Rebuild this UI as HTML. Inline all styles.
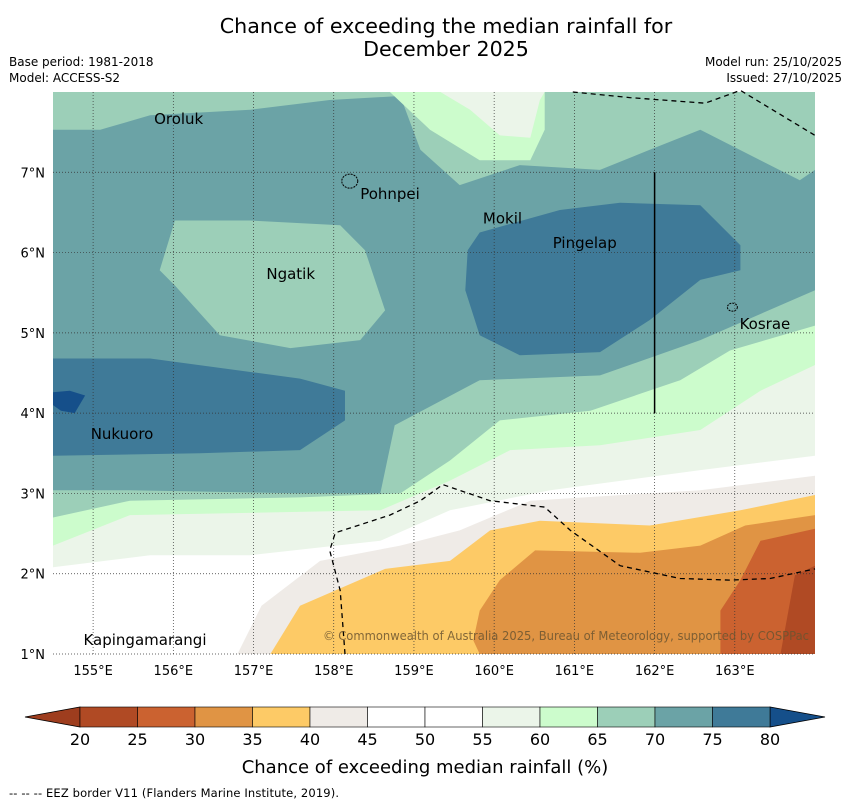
<!DOCTYPE html>
<html><head><meta charset="utf-8"><style>
body{margin:0;background:#fff;font-family:"DejaVu Sans","Liberation Sans",sans-serif;}
svg text{font-family:"DejaVu Sans","Liberation Sans",sans-serif;}
</style></head><body>
<svg id="chart" width="850" height="804" viewBox="0 0 850 804" xmlns="http://www.w3.org/2000/svg">
<text x="446" y="33" font-size="20.6" text-anchor="middle">Chance of exceeding the median rainfall for</text>
<text x="446" y="56" font-size="20.6" text-anchor="middle">December 2025</text>
<text x="9" y="66" font-size="12">Base period: 1981-2018</text>
<text x="9" y="82" font-size="12">Model: ACCESS-S2</text>
<text x="842" y="66" font-size="12" text-anchor="end">Model run: 25/10/2025</text>
<text x="842" y="82" font-size="12" text-anchor="end">Issued: 27/10/2025</text>
<defs><clipPath id="mapclip"><rect x="53" y="92" width="762" height="562"/></clipPath></defs>
<g id="map" clip-path="url(#mapclip)"></g>
<g id="overlay"></g>
<g id="cbar"></g>
<text x="425" y="773" font-size="18" text-anchor="middle">Chance of exceeding median rainfall (%)</text>
<text x="9" y="797" font-size="11.5" textLength="330">--  --  -- EEZ border V11 (Flanders Marine Institute, 2019).</text>
</svg>
<script>
const lonTicks=[155,156,157,158,159,160,161,162,163];
const latTicks=[1,2,3,4,5,6,7];
const cbarLevels=[20,25,30,35,40,45,50,55,60,65,70,75,80];
const cbarColors=["#b04a24","#cb6230","#e09444","#fdca66","#efebe7","#ffffff","#ffffff","#ebf5e9","#ccfccc","#9ccfb8","#6ba3a6","#3f7a98"];
const overColor="#154f8a", underColor="#9e3d1e";
const lon0=154.5, lon1=164, lat0=1, lat1=8;
function X(lon){return 53+(lon-lon0)*(762/(lon1-lon0));}
function Y(lat){return 654-(lat-lat0)*(562/(lat1-lat0));}
const regions=[
 ["#9ccfb8",[[154.5,3.04],[155.46,3.04],[157.58,3.0],[158.58,3.0],[158.76,3.85],[159.82,4.41],[161.32,4.47],[162.57,4.91],[164,5.53],[164,1],[154.5,1]]],
 ["#9ccfb8",[[154.5,7.53],[155.09,7.53],[155.71,7.71],[156.96,7.78],[157.95,7.9],[158.83,7.95],[159.08,7.28],[159.57,6.84],[160.32,7.09],[161.32,7.03],[161.94,7.28],[162.57,7.53],[163.81,6.9],[164,7.03],[164,8],[154.5,8]]],
 ["#9ccfb8",[[156.02,6.4],[156.96,6.4],[158.08,6.34],[158.39,6.03],[158.64,5.28],[158.33,4.91],[157.46,4.81],[156.58,4.97],[156.02,5.59],[155.83,5.78]]],
 ["#ccfccc",[[154.5,2.7],[155.46,2.91],[157.58,2.95],[158.83,3.0],[159.45,3.41],[160.07,3.91],[161.2,4.03],[162.32,4.41],[162.94,4.78],[164,5.09],[164,1],[154.5,1]]],
 ["#ccfccc",[[158.7,8],[159.2,7.53],[159.82,7.15],[160.45,7.15],[160.63,7.53],[160.63,8]]],
 ["#ebf5e9",[[154.5,2.35],[155.46,2.73],[158.58,2.79],[159.45,3.16],[160.2,3.54],[161.32,3.6],[162.57,3.79],[163.32,4.28],[164,4.6],[164,1],[154.5,1]]],
 ["#ebf5e9",[[159.33,8],[159.7,7.78],[160.07,7.46],[160.45,7.43],[160.57,7.9],[160.63,8]]],
 ["#ffffff",[[154.5,2.08],[155.71,2.23],[156.96,2.23],[158.58,2.41],[159.45,2.79],[160.7,3.04],[162.57,3.29],[164,3.47],[164,1],[154.5,1]]],
 ["#efebe7",[[156.8,1],[157.1,1.6],[157.83,2.16],[158.83,2.35],[159.57,2.54],[160.45,2.91],[162.57,3.04],[164,3.22],[164,1]]],
 ["#fdca66",[[157.21,1],[157.58,1.6],[158.64,2.06],[159.45,2.16],[159.95,2.54],[160.57,2.66],[161.94,2.6],[163.07,2.79],[164,2.98],[164,1]]],
 ["#e09444",[[159.74,1.17],[159.82,1.54],[160.07,1.92],[160.51,2.29],[161.82,2.26],[162.57,2.35],[163.13,2.6],[164,2.73],[164,1],[159.82,1]]],
 ["#cb6230",[[162.82,1],[162.82,1.54],[163.07,1.92],[163.32,2.41],[164,2.56],[164,1]]],
 ["#b04a24",[[163.57,1],[163.75,1.98],[164,2.1],[164,1]]],
 ["#3f7a98",[[154.5,4.68],[155.71,4.68],[157.58,4.43],[158.14,4.28],[158.14,3.91],[157.58,3.54],[156.33,3.5],[154.5,3.47]]],
 ["#3f7a98",[[159.82,6.25],[160.82,6.53],[161.57,6.62],[162.57,6.59],[163.07,6.09],[163.07,5.78],[162.57,5.66],[161.94,5.16],[161.32,4.76],[160.32,4.72],[159.82,4.97],[159.64,5.53],[159.67,6.03]]],
 ["#154f8a",[[154.5,4.26],[154.71,4.28],[154.9,4.22],[154.77,4.0],[154.6,4.03],[154.5,4.1]]]
];
const eezA=[[158.14,1],[158.08,1.79],[157.95,2.29],[158.02,2.51],[158.7,2.73],[159.08,2.91],[159.36,3.11],[159.95,2.91],[160.63,2.83],[160.95,2.54],[161.57,2.1],[162.32,1.94],[162.94,1.92],[163.44,1.94],[164,2.06]];
const eezB=[[160.98,8],[161.69,7.93],[162.63,7.86],[163.07,8.02],[164,7.46]];
const vline=[[162,7],[162,4]];
const islands=[["Oroluk",155.76,7.6],["Pohnpei",158.33,6.67],["Mokil",159.86,6.36],["Pingelap",160.73,6.06],["Ngatik",157.16,5.67],["Kosrae",163.06,5.05],["Nukuoro",154.97,3.68],["Kapingamarangi",154.88,1.11]];
const NS="http://www.w3.org/2000/svg";
function mk(t,a,p){const e=document.createElementNS(NS,t);for(const k in a)e.setAttribute(k,a[k]);p.appendChild(e);return e;}
const map=document.getElementById('map');
let bg=mk('rect',{x:53,y:92,width:762,height:562,fill:"#6ba3a6"},map);


const pts=a=>a.map(p=>X(p[0]).toFixed(1)+","+Y(p[1]).toFixed(1)).join(" ");
regions.forEach((r,i)=>{const e=mk('polygon',{points:pts(r[1]),fill:r[0]},map);

});
const ov=document.getElementById('overlay');
lonTicks.forEach(l=>{const e=mk('line',{x1:X(l),x2:X(l),y1:92,y2:654,stroke:"#333","stroke-width":0.7,"stroke-dasharray":"1,2"},ov);


const t=mk('text',{x:X(l),y:675,"font-size":13,"text-anchor":"middle"},ov);t.textContent=l+"°E";

});
latTicks.forEach(l=>{const e=mk('line',{x1:53,x2:815,y1:Y(l),y2:Y(l),stroke:"#333","stroke-width":0.7,"stroke-dasharray":"1,2"},ov);


const t=mk('text',{x:45,y:Y(l)+5,"font-size":13,"text-anchor":"end"},ov);t.textContent=l+"°N";

});
[eezA,eezB].forEach(a=>{const e=mk('polyline',{points:pts(a),fill:"none",stroke:"#000","stroke-width":1.3,"stroke-dasharray":"5,4"},ov);

});
let vl=mk('polyline',{points:pts(vline),stroke:"#000","stroke-width":1.5,fill:"none"},ov);


islands.forEach(s=>{const t=mk('text',{x:X(s[1]),y:Y(s[2]),"font-size":15},ov);t.textContent=s[0];

});
let ps=mk('ellipse',{cx:X(158.2),cy:Y(6.89),rx:8,ry:7,fill:"none",stroke:"#000","stroke-dasharray":"2,1"},ov);


let ks=mk('ellipse',{cx:X(162.97),cy:Y(5.32),rx:5,ry:4,fill:"none",stroke:"#000","stroke-dasharray":"2,1"},ov);


let cp=mk('text',{x:323,y:640,"font-size":12,textLength:486,lengthAdjust:"spacingAndGlyphs",fill:"#6b5530","fill-opacity":0.85},ov);cp.textContent="© Commonwealth of Australia 2025, Bureau of Meteorology, supported by COSPPac";


const cb=document.getElementById('cbar');
const cx0=80,cx1=770,cy0=707,cy1=727;
const CX=v=>cx0+(v-cbarLevels[0])*(cx1-cx0)/(cbarLevels[cbarLevels.length-1]-cbarLevels[0]);
let u=mk('polygon',{points:`${cx0},${cy0} ${cx0},${cy1} 25,${(cy0+cy1)/2}`,fill:underColor,stroke:"#000","stroke-width":0.8},cb);


let o=mk('polygon',{points:`${cx1},${cy0} ${cx1},${cy1} 825,${(cy0+cy1)/2}`,fill:overColor,stroke:"#000","stroke-width":0.8},cb);


cbarColors.forEach((c,i)=>{const e=mk('rect',{x:CX(cbarLevels[i]),y:cy0,width:CX(cbarLevels[i+1])-CX(cbarLevels[i]),height:cy1-cy0,fill:c,stroke:"#000","stroke-width":0.6},cb);

});
cbarLevels.forEach(v=>{const t=mk('text',{x:CX(v),y:745,"font-size":16,"text-anchor":"middle"},cb);t.textContent=v;

});
</script>
</body></html>
